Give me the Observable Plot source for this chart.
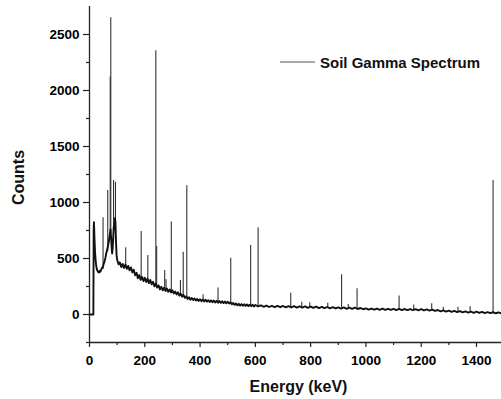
<!DOCTYPE html>
<html>
<head>
<meta charset="utf-8">
<script src="https://cdn.jsdelivr.net/npm/d3@7"></script>
<script src="https://cdn.jsdelivr.net/npm/@observablehq/plot@0.6"></script>
<style>
  html, body { margin: 0; padding: 0; background: #fff; }
  #chart { width: 501px; height: 399px; position: relative; }
</style>
</head>
<body>
<div id="chart"></div>
<script>
// ---- Data (energy in keV, counts) ----
// low-energy part of the continuum (hand-read, irregular channels)
const lowEnergy = [0,4,8,12,14,15,16,17,18,20,22,24,26,28,30,32,34,36,38,40,42,44,46,48,50,52,54,56,58,60,62,64,66,68,70,72,74,76,78,80,82,84,86,88,90,92,94,96,98];
const lowCounts = [0,0,0,0,0,740,825,760,680,560,490,440,410,395,385,378,382,375,390,385,400,410,420,415,440,455,470,490,510,540,560,580,600,630,650,690,720,760,690,600,545,600,700,790,760,860,820,640,530];

// continuum 100–600 keV, every 5 keV
const midStart = 100, midStep = 5;
const midCounts = [
  492,448,465,424,452,415,446,408,434,394,
  420,376,400,350,372,324,352,309,336,299,
  328,290,320,280,308,269,292,251,276,240,
  260,224,248,216,240,210,232,202,224,197,
  216,188,205,179,198,169,186,159,176,149,
  162,139,154,132,148,129,143,125,139,121,
  136,119,133,117,132,115,128,112,126,110,
  124,108,122,106,120,104,118,102,116,100,
  114,98,110,92,103,86,98,82,95,80,
  93,78,91,76,90,75,88,74,87,72,
  85
];

// continuum 610–1490 keV, every 10 keV
const highStart = 610, highStep = 10;
const highCounts = [
  72,82,69,80,67,78,65,77,65,76,
  64,75,63,74,62,73,61,72,60,71,
  59,70,57,68,56,67,55,65,54,64,
  53,63,51,62,50,61,49,58,47,55,
  44,53,43,53,42,52,42,51,41,51,
  40,50,40,49,39,49,38,48,37,47,
  36,45,35,44,32,40,28,37,26,35,
  24,33,22,31,19,28,17,26,15,25,
  14,23,13,21,12,20,11,19,11
];

// photopeaks: energy, base counts, top counts
const peakEnergy = [49,66,75,77,87,94,131,187,211,240,243,272,277,296,329,339,352,411,465,511,583,610,728,768,797,862,912,936,968,1120,1173,1238,1280,1333,1377,1460];
const peakBase   = [430,560,700,720,650,800,430,320,305,265,262,228,226,208,178,168,152,126,114,104,82,77,69,67,66,61,58,57,54,45,43,39,32,27,22,16];
const peakTop    = [863,1107,2120,2650,1196,1180,595,740,527,2355,607,393,310,825,304,556,1150,176,236,503,616,775,190,110,105,100,355,90,230,165,85,95,65,65,69,1196];

const xMajor = [0,200,400,600,800,1000,1200,1400];
const xMinor = [100,300,500,700,900,1100,1300];
const yMajor = [0,500,1000,1500,2000,2500];
const yMinor = [-250,250,750,1250,1750,2250];

const legendLabel = "Soil Gamma Spectrum";
const xLabel = "Energy (keV)";
const yLabel = "Counts";

// ---- Build table ----
const spectrum = [];
lowEnergy.forEach((e, i) => spectrum.push({e, c: lowCounts[i]}));
midCounts.forEach((c, i) => spectrum.push({e: midStart + i * midStep, c}));
highCounts.forEach((c, i) => spectrum.push({e: highStart + i * highStep, c}));
const peaks = peakEnergy.map((e, i) => ({e, b: peakBase[i], t: peakTop[i]}));

const font = "'Liberation Sans', Arial, Helvetica, sans-serif";
const fmt = d3.format("d");

const chart = Plot.plot({
  width: 501,
  height: 399,
  marginLeft: 89,
  marginRight: 0,
  marginTop: 6,
  marginBottom: 57,
  x: {domain: [0, 1490.5], axis: null},
  y: {domain: [-250, 2750], axis: null},
  style: {fontFamily: font, fontWeight: "bold", fontSize: "13.5px", color: "#000", background: "#fff"},
  marks: [
    Plot.ruleX(peaks, {x: "e", y1: "b", y2: "t", stroke: "#333", strokeWidth: 1.1}),
    Plot.line(spectrum, {x: "e", y: "c", stroke: "#111", strokeWidth: 1.9, curve: "linear"}),
    Plot.ruleX([0], {stroke: "#222", strokeWidth: 1.3}),
    Plot.ruleY([-250], {stroke: "#222", strokeWidth: 1.3}),
    Plot.axisX(xMajor, {anchor: "bottom", tickSize: 5, tickPadding: 8, label: null, tickFormat: fmt, fontSize: 13.5, fontWeight: "bold", stroke: "#222", strokeWidth: 1.2}),
    Plot.axisX(xMinor, {anchor: "bottom", tickSize: 3, label: null, text: null, stroke: "#222", strokeWidth: 1.2}),
    Plot.axisY(yMajor, {anchor: "left", tickSize: 6, tickPadding: 4, label: null, tickFormat: fmt, fontSize: 13.5, fontWeight: "bold", stroke: "#222", strokeWidth: 1.2}),
    Plot.axisY(yMinor, {anchor: "left", tickSize: 3, label: null, text: null, stroke: "#222", strokeWidth: 1.2}),
    Plot.text([yLabel], {text: d => d, frameAnchor: "left", dx: -71, dy: 3, rotate: -90, textAnchor: "middle", lineAnchor: "middle", fontSize: 16, fontWeight: "bold", fill: "#111"}),
    Plot.text([xLabel], {text: d => d, frameAnchor: "bottom", dx: 3, dy: 44, textAnchor: "middle", lineAnchor: "middle", fontSize: 16, fontWeight: "bold", fill: "#111"})
  ]
});

// legend inside the plot area
const svg = d3.select(chart);
const lg = svg.append("g").attr("class", "legend");
lg.append("line").attr("x1", 280).attr("x2", 315).attr("y1", 62).attr("y2", 62)
  .attr("stroke", "#555").attr("stroke-width", 1);
lg.append("text").attr("x", 320).attr("y", 67.5)
  .attr("text-anchor", "start")
  .attr("font-family", font).attr("font-weight", "bold").attr("font-size", 15)
  .attr("fill", "#111").text(legendLabel);

document.getElementById("chart").appendChild(chart);
</script>
</body>
</html>
